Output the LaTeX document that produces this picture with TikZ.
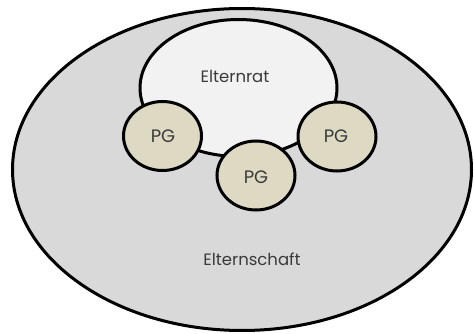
\documentclass[tikz,border=0pt]{standalone}
\usepackage{fontspec}
\setmainfont{Poppins}
\usetikzlibrary{shapes.geometric}
\definecolor{outerfill}{HTML}{D9D9D9}
\definecolor{ratfill}{HTML}{F2F2F2}
\definecolor{pgfill}{HTML}{DDD9C3}
\definecolor{txt}{HTML}{3A3A3A}
\begin{document}
\begin{tikzpicture}[x=1pt,y=-1pt,
  blob/.style={ellipse,draw=black,line width=3pt,inner sep=0pt,outer sep=0pt},
  pg/.style={blob,fill=pgfill,minimum width=78pt,minimum height=69pt},
  pgtext/.style={font=\fontsize{18}{20}\selectfont,text=txt,anchor=base,inner sep=0pt},
  lbl/.style={font=\fontsize{16.5}{19}\selectfont,text=txt,anchor=base,inner sep=0pt}]
\useasboundingbox (0,0) rectangle (474,334);
\node[blob,fill=outerfill,minimum width=459pt,minimum height=322pt] (schaft) at (242,169.5) {};
\node[blob,fill=ratfill,minimum width=197pt,minimum height=137pt] (rat) at (238.5,88) {};
\node[pg] (pg1) at (162.5,136) {};
\node[pg] (pg2) at (256,175.5) {};
\node[pg] (pg3) at (337,136.5) {};
\node[pgtext] (t1) at (163,143) {PG};
\node[pgtext] (t2) at (256,183) {PG};
\node[pgtext] (t3) at (336,143) {PG};
\node[lbl] (tr) at (235,83) {Elternrat};
\node[lbl] (ts) at (252,265) {Elternschaft};
\end{tikzpicture}
\end{document}
